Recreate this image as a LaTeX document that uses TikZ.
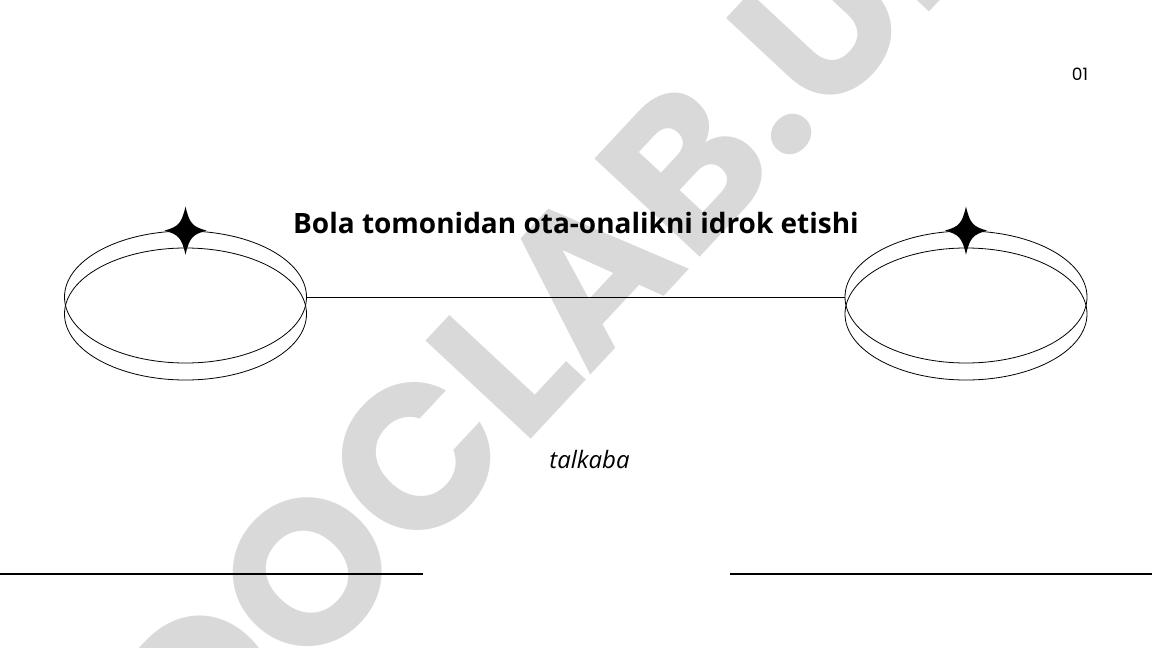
\documentclass[tikz,border=0pt]{standalone}
\usepackage{fontspec}
\usetikzlibrary{shapes.geometric}
\newfontfamily\opensans{Open Sans}
\newfontfamily\poppins{Poppins}
\definecolor{markgray}{HTML}{D9D9D9}
\newcommand\sparkle[1]{\fill[shift={(#1)}] (0,-24) .. controls (4,-7) and (7,-4) .. (21,0)
  .. controls (7,4) and (4,7) .. (0,24) .. controls (-4,7) and (-7,4) .. (-21,0)
  .. controls (-7,-4) and (-4,-7) .. cycle;}

\begin{document}
\begin{tikzpicture}[x=1pt,y=-1pt,line width=0.8pt,
  ring/.style={ellipse,draw,minimum width=242pt,minimum height=132pt,inner sep=0pt},
  title/.style={font=\opensans\bfseries\fontsize{28}{30}\selectfont}]
  \useasboundingbox (0,0) rectangle (1152,648);
  \fill[white] (0,0) rectangle (1152,648);

  % watermark
  \begin{scope}
    \clip (0,0) rectangle (1152,648);
    \node[rotate=47,text=markgray,font=\poppins\bfseries\fontsize{205}{205}\selectfont] (mark) at (552,311) {DOCLAB.UZ};
  \end{scope}

  \node[ring] (la) at (185.5,297) {};
  \node[ring] (lb) at (185.5,314) {};
  \node[ring] (ra) at (966,297) {};
  \node[ring] (rb) at (966,314) {};
  \sparkle{la.north}
  \sparkle{ra.north}
  \draw (la.east) -- (ra.west);

  \node[title,anchor=base] (head) at (576,233) {Bola tomonidan ota-onalikni idrok etishi};
  \node[font=\opensans\itshape\fontsize{24}{26}\selectfont,anchor=base] (sub) at (589.5,468) {talkaba};
  \node[font=\poppins\fontsize{17}{18}\selectfont,anchor=base] (num) at (1080,80) {01};

  % bottom rules
  \coordinate (bl0) at (0,574);
  \coordinate (bl1) at (423,574);
  \coordinate (br0) at (730,574);
  \coordinate (br1) at (1152,574);
  \draw[line width=1.2pt] (bl0) -- (bl1) (br0) -- (br1);
\end{tikzpicture}
\end{document}
